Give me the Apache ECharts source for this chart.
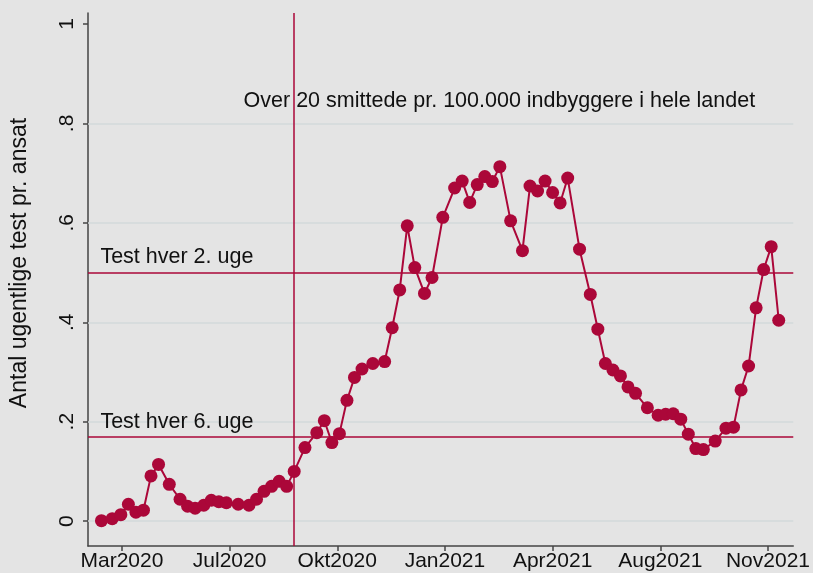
<!DOCTYPE html>
<html>
<head>
<meta charset="utf-8">
<script src="https://cdn.jsdelivr.net/npm/echarts@6/dist/echarts.min.js"></script>
<style>
  html, body { margin: 0; padding: 0; background: #e4e4e4; }
  #chart { width: 813px; height: 573px; }
</style>
</head>
<body>
<div id="chart"></div>
<script>
// Weekly tests per employee (observation dates and values)
const obsDates = [
  '2020-03-07','2020-03-17','2020-03-25','2020-04-01','2020-04-08','2020-04-15','2020-04-22','2020-04-29',
  '2020-05-09','2020-05-19','2020-05-26','2020-06-02','2020-06-10','2020-06-17','2020-06-24','2020-07-01',
  '2020-07-12','2020-07-22','2020-07-29','2020-08-05','2020-08-12','2020-08-19','2020-08-26','2020-09-02',
  '2020-09-12','2020-09-23','2020-09-30','2020-10-07','2020-10-14','2020-10-21','2020-10-28','2020-11-04',
  '2020-11-14','2020-11-25','2020-12-02','2020-12-09','2020-12-16','2020-12-23','2021-01-01','2021-01-08',
  '2021-01-18','2021-01-29','2021-02-05','2021-02-12','2021-02-19','2021-02-26','2021-03-05','2021-03-12',
  '2021-03-22','2021-04-02','2021-04-09','2021-04-16','2021-04-23','2021-04-30','2021-05-07','2021-05-14',
  '2021-05-25','2021-06-04','2021-06-11','2021-06-18','2021-06-25','2021-07-02','2021-07-09','2021-07-16',
  '2021-07-27','2021-08-06','2021-08-13','2021-08-20','2021-08-27','2021-09-03','2021-09-10','2021-09-17',
  '2021-09-28','2021-10-08','2021-10-15','2021-10-22','2021-10-29','2021-11-05','2021-11-12','2021-11-19',
  '2021-11-26'
];
const testsPerEmployee = [
  0.001, 0.005, 0.013, 0.034, 0.018, 0.022, 0.091, 0.114,
  0.074, 0.044, 0.030, 0.026, 0.032, 0.042, 0.039, 0.037,
  0.034, 0.032, 0.044, 0.060, 0.070, 0.080, 0.070, 0.100,
  0.148, 0.178, 0.202, 0.158, 0.176, 0.243, 0.289, 0.306,
  0.317, 0.321, 0.389, 0.465, 0.594, 0.510, 0.458, 0.490,
  0.611, 0.670, 0.684, 0.641, 0.677, 0.693, 0.683, 0.713,
  0.604, 0.544, 0.674, 0.664, 0.684, 0.661, 0.640, 0.690,
  0.547, 0.456, 0.386, 0.317, 0.304, 0.292, 0.270, 0.257,
  0.228, 0.213, 0.215, 0.216, 0.205, 0.175, 0.146, 0.144,
  0.161, 0.187, 0.189, 0.264, 0.312, 0.429, 0.506, 0.552,
  0.404
];

// Axis ticks
const xTickDates = ['2020-03-26','2020-07-04','2020-10-12','2021-01-20','2021-04-30','2021-08-08','2021-11-16'];
const xTickLabels = ['Mar2020','Jul2020','Okt2020','Jan2021','Apr2021','Aug2021','Nov2021'];
const yTickValues = [0, 0.2, 0.4, 0.6, 0.8, 1];
const yTickLabels = ['0', '.2', '.4', '.6', '.8', '1'];
const yGridValues = [0, 0.2, 0.4, 0.6, 0.8];

// Reference lines: test every 2nd week / every 6th week, and the incidence threshold date
const refLevels = [1 / 2, 1 / 6];
const refLevelLabels = ['Test hver 2. uge', 'Test hver 6. uge'];
const incidenceDate = '2020-09-02';
const incidenceLabel = 'Over 20 smittede pr. 100.000 indbyggere i hele landet';

const RED = '#ab0739';
const INK = '#111111';
const FONT = '"Liberation Sans", Arial, sans-serif';

// day number since 1970-01-01
function dayNum(s) {
  const p = s.split('-').map(Number);
  return Date.UTC(p[0], p[1] - 1, p[2]) / 86400000;
}

const seriesData = obsDates.map((d, i) => [dayNum(d), testsPerEmployee[i]]);
const xTicks = xTickDates.map(dayNum);
const labelByDay = {};
xTicks.forEach((v, i) => { labelByDay[v] = xTickLabels[i]; });
const yLabelByValue = {};
yTickValues.forEach((v, i) => { yLabelByValue[v.toFixed(1)] = yTickLabels[i]; });

const xMin = dayNum('2020-02-23') + 0.5;
const xMax = dayNum('2021-12-09') + 0.5;

const chart = echarts.init(document.getElementById('chart'), null, { renderer: 'canvas' });

chart.setOption({
  backgroundColor: '#e4e4e4',
  animation: false,
  textStyle: { fontFamily: FONT },
  grid: { left: 88, right: 17, top: 13, bottom: 27, containLabel: false },
  xAxis: {
    type: 'value',
    min: xMin,
    max: xMax,
    axisLine: { show: true, onZero: false, lineStyle: { color: '#444', width: 1.5 } },
    axisTick: { show: true, length: 5, customValues: xTicks, lineStyle: { color: '#444', width: 1.5 } },
    axisLabel: {
      customValues: xTicks,
      margin: 5,
      fontSize: 21,
      color: INK,
      fontFamily: FONT,
      formatter: v => labelByDay[v] || ''
    },
    splitLine: { show: false }
  },
  yAxis: {
    type: 'value',
    min: -0.05,
    max: 1.022,
    axisLine: { show: true, onZero: false, lineStyle: { color: '#444', width: 1.5 } },
    axisTick: { show: true, length: 5, customValues: yTickValues, lineStyle: { color: '#444', width: 1.5 } },
    axisLabel: {
      customValues: yTickValues,
      rotate: 90,
      margin: 10,
      fontSize: 21,
      color: INK,
      fontFamily: FONT,
      formatter: v => yLabelByValue[Number(v).toFixed(1)] || ''
    },
    splitLine: { show: false }
  },
  graphic: [{
    type: 'text',
    x: 20,
    y: 263,
    rotation: Math.PI / 2,
    style: {
      text: 'Antal ugentlige test pr. ansat',
      fontSize: 23,
      fontFamily: FONT,
      fill: INK,
      align: 'center',
      verticalAlign: 'middle'
    }
  }],
  series: [
    {
      // light horizontal grid
      type: 'line',
      data: [],
      silent: true,
      z: 1,
      markLine: {
        z: 1,
        silent: true,
        symbol: 'none',
        label: { show: false },
        lineStyle: { color: '#d3dadb', width: 1.5, type: 'solid' },
        data: yGridValues.map(v => ({ yAxis: v }))
      }
    },
    {
      // annotation texts
      type: 'scatter',
      silent: true,
      z: 2,
      symbolSize: 0,
      itemStyle: { opacity: 1 },
      data: [
        { value: [dayNum('2020-07-17'), 0.845], name: incidenceLabel },
        { value: [dayNum('2020-03-06'), refLevels[0] + 0.031], name: refLevelLabels[0] },
        { value: [dayNum('2020-03-06'), refLevels[1] + 0.033], name: refLevelLabels[1] }
      ],
      label: {
        show: true,
        position: 'right',
        distance: 0,
        formatter: p => p.name,
        fontSize: 21.5,
        fontFamily: FONT,
        color: INK,
        opacity: 1,
        textBorderWidth: 0
      }
    },
    {
      // reference lines
      type: 'line',
      data: [],
      silent: true,
      z: 3,
      markLine: {
        z: 3,
        silent: true,
        symbol: 'none',
        label: { show: false },
        lineStyle: { color: RED, width: 1.5, type: 'solid', opacity: 1 },
        data: [
          { yAxis: refLevels[0] },
          { yAxis: refLevels[1] },
          { xAxis: dayNum(incidenceDate) }
        ]
      }
    },
    {
      type: 'line',
      z: 10,
      data: seriesData,
      symbol: 'circle',
      symbolSize: 13,
      showAllSymbol: true,
      lineStyle: { color: RED, width: 2 },
      itemStyle: { color: RED, borderWidth: 0 }
    }
  ]
});
</script>
</body>
</html>
